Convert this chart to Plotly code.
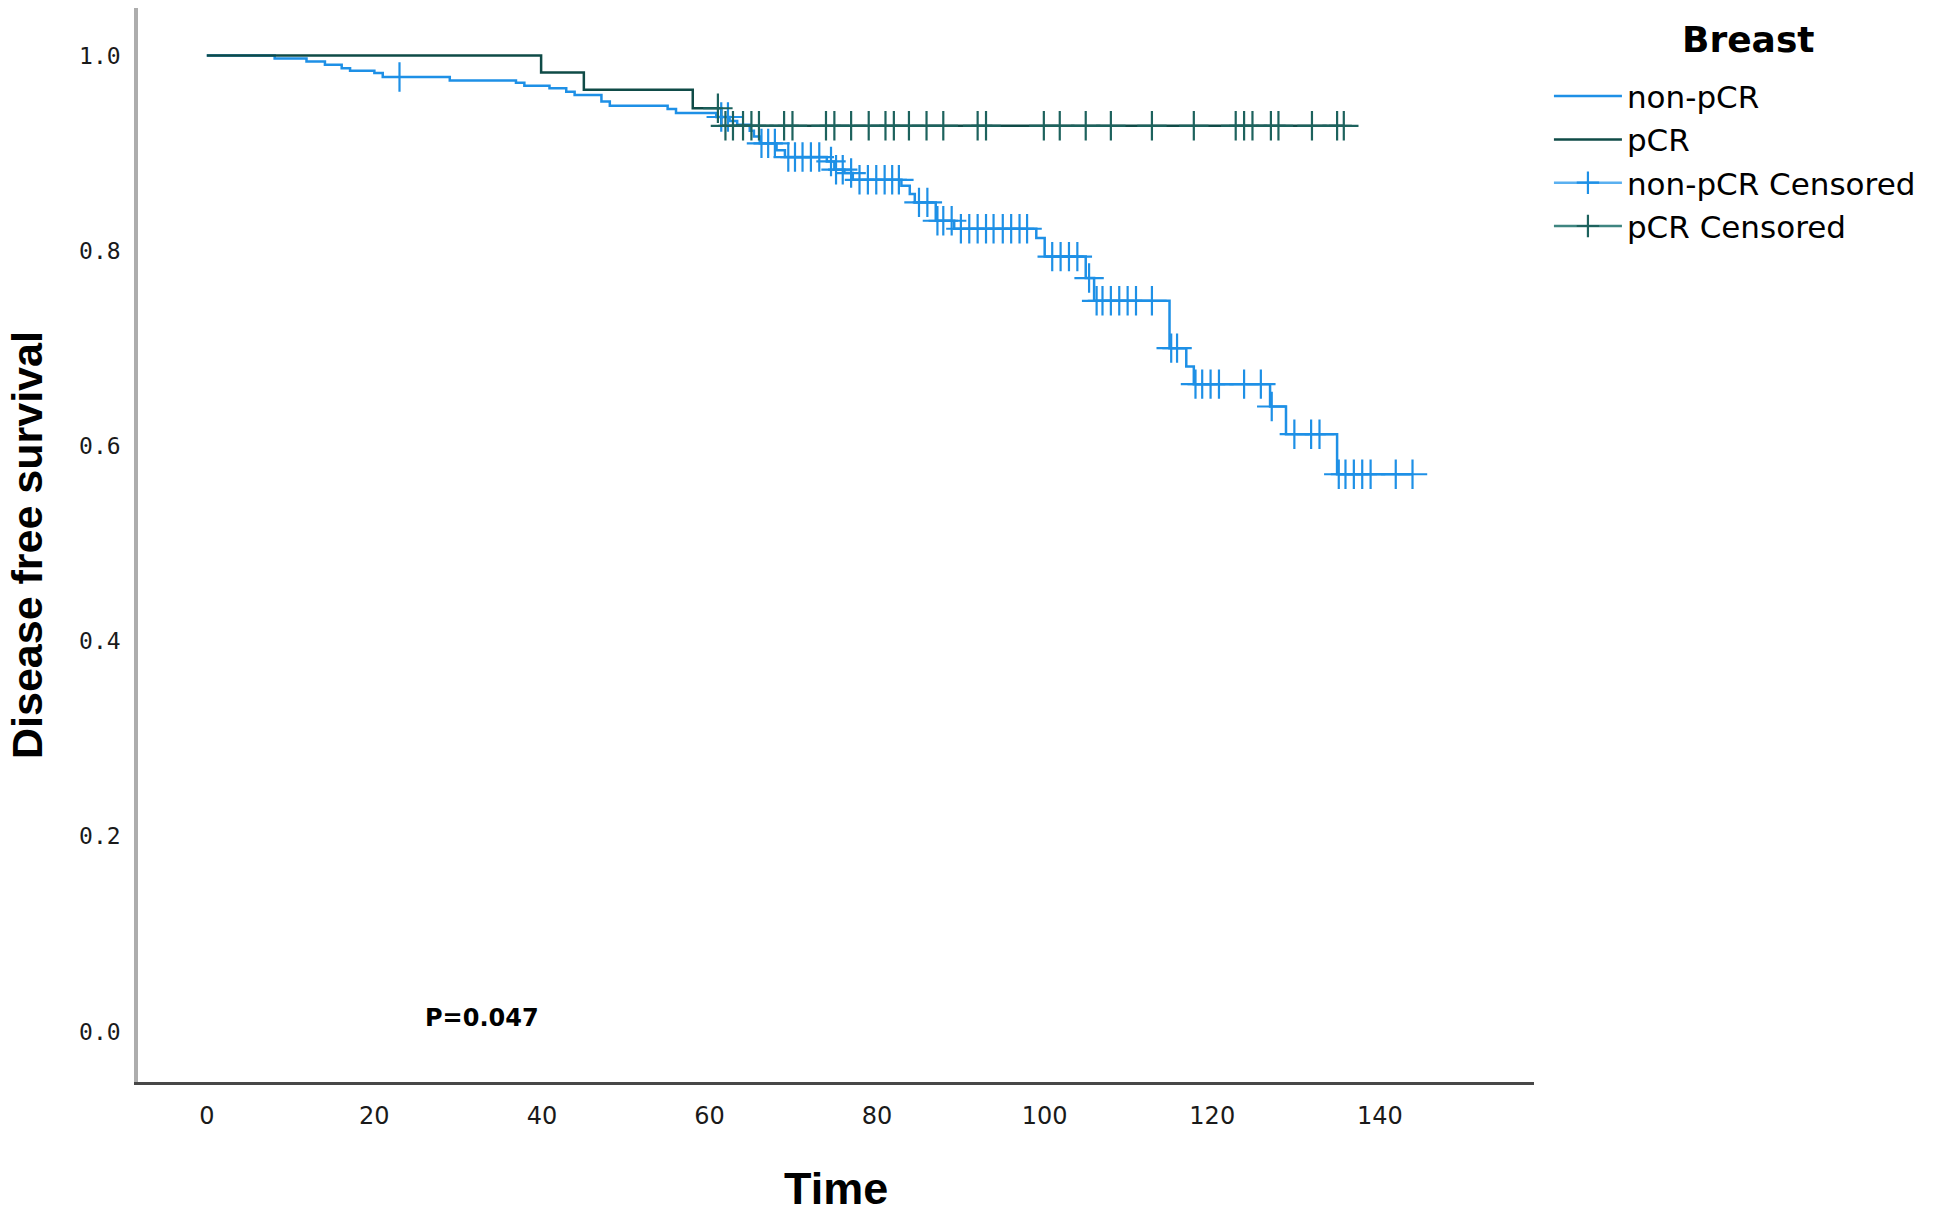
import numpy as np
import plotly.graph_objects as go

# ---------------- data ----------------
# non-pCR group: times of events and survival level after each event
nonpcr_event_times = [8.1, 11.9, 14.1, 16.1, 17.1, 20.0, 21.0, 29.0, 36.9, 37.9,
                      40.9, 42.9, 43.9, 47.1, 48.1, 55.0, 56.0, 60.8, 62.4, 63.3,
                      64.8, 65.3, 66.0, 68.0, 69.0, 74.0, 74.9, 76.1, 77.1, 82.9,
                      83.9, 84.5, 87.0, 89.2, 99.0, 100.0, 104.9, 105.9, 114.9, 116.9,
                      117.8, 126.9, 128.8, 134.9]
nonpcr_survival = [0.997, 0.994, 0.9905, 0.987, 0.9845, 0.982, 0.978, 0.9745, 0.972, 0.969,
                   0.9665, 0.963, 0.9595, 0.953, 0.9486, 0.9451, 0.941, 0.937, 0.933, 0.929,
                   0.923, 0.917, 0.910, 0.903, 0.896, 0.8915, 0.883, 0.8796, 0.8727, 0.8666,
                   0.858, 0.8495, 0.8307, 0.8225, 0.813, 0.794, 0.772, 0.7487, 0.7002, 0.6814,
                   0.6633, 0.6404, 0.612, 0.571]
nonpcr_censor_times = [23.0, 61.4, 62.2, 66.2, 67.0, 67.8, 69.4, 70.2, 71.1, 72.1,
                       73.1, 74.5, 75.1, 75.9, 76.9, 77.9, 78.9, 79.9, 80.9, 81.8,
                       82.6, 85.0, 86.0, 87.2, 87.9, 88.9, 90.0, 91.0, 92.0, 93.0,
                       93.9, 95.0, 96.0, 97.0, 97.9, 100.9, 101.9, 102.9, 103.9, 105.3,
                       106.2, 106.9, 107.9, 108.9, 109.9, 110.9, 112.8, 115.1, 115.8, 118.0,
                       118.8, 119.8, 120.8, 123.8, 125.8, 127.1, 129.8, 131.8, 132.8, 135.1,
                       135.9, 136.9, 137.9, 138.9, 141.9, 143.9]

# pCR group
pcr_event_times = [39.9, 45.0, 58.0, 61.4]
pcr_survival = [0.9827, 0.965, 0.946, 0.928]
pcr_censor_times = [61.0, 61.9, 62.8, 64.0, 65.0, 65.9, 68.9, 69.9, 73.9, 74.9,
                    76.9, 79.0, 81.0, 82.0, 83.8, 85.9, 87.9, 92.0, 93.0, 99.9,
                    101.8, 104.9, 107.9, 112.8, 117.8, 122.8, 123.8, 124.8, 127.0, 127.9,
                    131.9, 134.9, 135.7]

x_ticks = [0, 20, 40, 60, 80, 100, 120, 140]
y_ticks = [0.0, 0.2, 0.4, 0.6, 0.8, 1.0]
y_ticklabels = ["0.0", "0.2", "0.4", "0.6", "0.8", "1.0"]
p_value_text = "P=0.047"
legend_title = "Breast"

# ---------------- helpers ----------------
def step_curve(event_times, surv, censor_times):
    end = max(censor_times[-1], event_times[-1])
    xs = [0.0] + list(event_times) + [end]
    ys = [1.0] + list(surv) + [surv[-1]]
    return xs, ys

def level_at(event_times, surv, t):
    i = int(np.searchsorted(np.array(event_times), t, side="right"))
    return 1.0 if i == 0 else surv[i - 1]

def censor_points(event_times, surv, censor_times):
    xs, ys = [], []
    for t in censor_times:
        xs += [t, None]
        ys += [level_at(event_times, surv, t), None]
    return xs, ys

BLUE = "#1e90e6"
DARK = "#0f4b47"
TEAL = "#1d625d"

fig = go.Figure()

x1, y1 = step_curve(nonpcr_event_times, nonpcr_survival, nonpcr_censor_times)
fig.add_trace(go.Scatter(x=x1, y=y1, mode="lines", line=dict(shape="hv", color=BLUE, width=2.5),
                         name="non-pCR"))
x2, y2 = step_curve(pcr_event_times, pcr_survival, pcr_censor_times)
fig.add_trace(go.Scatter(x=x2, y=y2, mode="lines", line=dict(shape="hv", color=DARK, width=2.5),
                         name="pCR"))
cx1, cy1 = censor_points(nonpcr_event_times, nonpcr_survival, nonpcr_censor_times)
fig.add_trace(go.Scatter(x=cx1, y=cy1, mode="lines+markers", connectgaps=False,
                         line=dict(color="#5ab0f0", width=2.5),
                         marker=dict(symbol="cross-thin", size=21, line=dict(color=BLUE, width=2.2)),
                         name="non-pCR Censored"))
cx2, cy2 = censor_points(pcr_event_times, pcr_survival, pcr_censor_times)
fig.add_trace(go.Scatter(x=cx2, y=cy2, mode="lines+markers", connectgaps=False,
                         line=dict(color="#3e8580", width=2.5),
                         marker=dict(symbol="cross-thin", size=21, line=dict(color=TEAL, width=2.2)),
                         name="pCR Censored"))

# page body has an 8 px margin: figure is sized/placed to compensate
fig.update_layout(
    width=1936, height=1199,
    margin=dict(l=130, r=410, t=0, b=125),
    plot_bgcolor="white", paper_bgcolor="white",
    showlegend=True,
    legend=dict(x=1.0107, y=0.9428, xanchor="left", yanchor="top",
                font=dict(family="DejaVu Sans", size=31, color="black"),
                itemwidth=68, bgcolor="rgba(0,0,0,0)", tracegroupgap=0),
    xaxis=dict(range=[-8.21, 158.4], tickvals=x_ticks, showgrid=False, zeroline=False,
               showline=True, linecolor="#474747", linewidth=2.5, ticks="",
               tickfont=dict(family="DejaVu Sans", size=24, color="#1a1a1a"),
               ticklabelstandoff=10),
    yaxis=dict(range=[-0.0517, 1.0487], tickvals=y_ticks, ticktext=y_ticklabels,
               showgrid=False, zeroline=False,
               showline=True, linecolor="#adadad", linewidth=3.5, ticks="",
               tickfont=dict(family="DejaVu Sans Mono", size=23, color="#1a1a1a"),
               ticklabelstandoff=9),
    annotations=[
        dict(text="<b>Disease free survival</b>", xref="paper", yref="paper",
             x=-0.0795, y=0.5, xanchor="center", yanchor="middle", textangle=-90,
             showarrow=False, font=dict(family="Liberation Sans", size=43, color="black")),
        dict(text="<b>Time</b>", xref="paper", yref="paper",
             x=0.5, y=-0.0987, xanchor="center", yanchor="middle",
             showarrow=False, font=dict(family="Liberation Sans", size=45, color="black")),
        dict(text="<b>" + p_value_text + "</b>", xref="x", yref="y",
             x=32.8, y=0.014, xanchor="center", yanchor="middle",
             showarrow=False, font=dict(family="DejaVu Sans", size=24, color="black")),
        dict(text="<b>" + legend_title + "</b>", xref="paper", yref="paper",
             x=1.1533, y=0.9705, xanchor="center", yanchor="middle",
             showarrow=False, font=dict(family="DejaVu Sans", size=36, color="black")),
    ],
)

fig.write_html("out.html")
